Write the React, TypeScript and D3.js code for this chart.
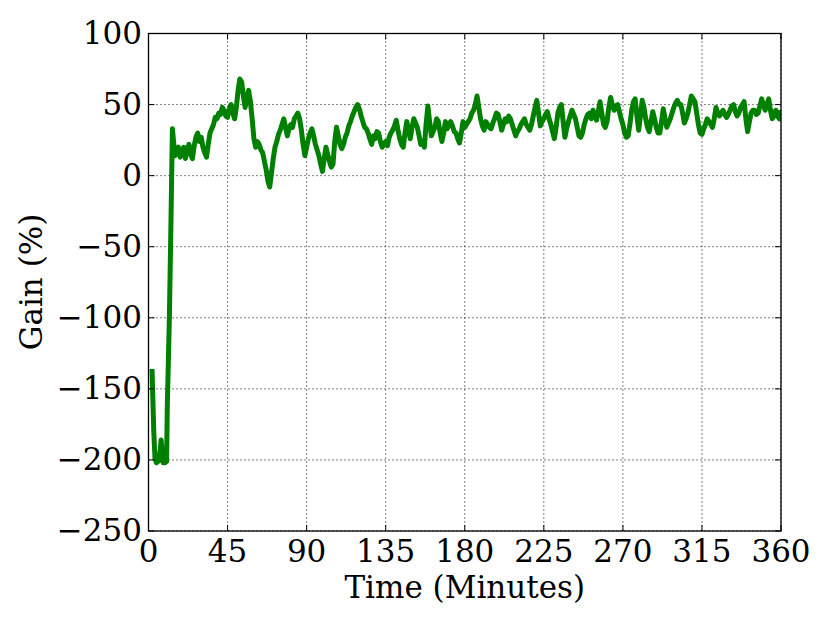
import React from "react";
import * as d3 from "d3";

// Early (steep) part of the series, irregular sampling
const earlyMinutes = [2, 3, 3.7, 4.5, 5.6, 6.5, 7.2, 7.8, 8.4, 9.5, 10.3, 10.7, 11.9, 12.8, 13.6];
const earlyGain = [-136, -180, -199, -202, -201, -195, -186, -195, -202, -202, -201, -162, -99, -31, 33];

// Main part, one sample per minute from 15 to 360
const mainMinutes = d3.range(15, 361, 1);
const mainGain = [
  14, 18, 20, 13, 16, 20, 12, 18, 22, 15,
  12, 21, 27, 30, 24, 27, 20, 16, 13, 22,
  30, 33, 36, 41, 40, 44, 43, 48, 46, 42,
  41, 47, 50, 44, 40, 48, 60, 68, 66, 56,
  48, 55, 60, 52, 40, 26, 20, 24, 22, 18,
  16, 10, 4, -4, -8, 2, 12, 20, 24, 29,
  32, 36, 40, 34, 28, 33, 36, 34, 40, 42,
  44, 40, 32, 22, 14, 20, 26, 30, 33, 28,
  22, 18, 14, 8, 3, 12, 20, 15, 10, 6,
  8, 24, 34, 28, 22, 19, 22, 27, 30, 35,
  38, 42, 45, 48, 50, 47, 42, 38, 34, 33,
  30, 26, 22, 28, 26, 31, 30, 24, 20, 22,
  24, 21, 27, 30, 32, 35, 39, 32, 26, 22,
  20, 30, 38, 32, 26, 34, 40, 37, 34, 28,
  22, 24, 20, 36, 49, 38, 28, 31, 34, 40,
  38, 30, 24, 30, 38, 33, 36, 38, 35, 31,
  30, 26, 23, 30, 38, 34, 36, 38, 40, 44,
  46, 50, 56, 48, 40, 35, 32, 38, 36, 34,
  33, 37, 40, 44, 43, 38, 32, 36, 40, 38,
  42, 40, 36, 32, 28, 31, 33, 36, 38, 40,
  36, 34, 32, 36, 42, 48, 53, 44, 35, 38,
  40, 43, 45, 40, 36, 31, 26, 34, 44, 48,
  50, 38, 27, 33, 38, 42, 46, 43, 40, 34,
  28, 27, 30, 36, 40, 43, 44, 40, 46, 43,
  39, 45, 52, 44, 36, 34, 38, 48, 55, 50,
  46, 49, 50, 45, 40, 36, 30, 27, 28, 36,
  46, 52, 54, 42, 32, 42, 53, 48, 40, 34,
  31, 38, 45, 40, 34, 30, 30, 38, 47, 40,
  34, 37, 40, 44, 48, 51, 53, 50, 50, 44,
  37, 40, 44, 50, 56, 54, 52, 44, 36, 30,
  29, 33, 36, 40, 38, 36, 34, 40, 48, 44,
  42, 44, 46, 43, 41, 43, 46, 49, 50, 45,
  42, 44, 48, 50, 52, 40, 31, 38, 44, 46,
  46, 43, 44, 49, 54, 50, 46, 50, 54, 46,
  40, 42, 46, 42, 40, 46,
];

const xTicks = [0, 45, 90, 135, 180, 225, 270, 315, 360];
const yTicks = [-250, -200, -150, -100, -50, 0, 50, 100];

const W = 830;
const H = 623;
const M = { left: 148.5, right: 781, top: 33.5, bottom: 531 };
const FONT = "'DejaVu Serif', serif";
const FS = 31;

export default function App() {
  const x = d3.scaleLinear().domain([0, 360]).range([M.left, M.right]);
  const y = d3.scaleLinear().domain([-250, 100]).range([M.bottom, M.top]);
  const pts: [number, number][] = [
    ...earlyMinutes.map((t, i) => [t, earlyGain[i]] as [number, number]),
    ...mainMinutes.map((t, i) => [t, mainGain[i]] as [number, number]),
  ];
  const line = d3
    .line<[number, number]>()
    .x((d) => x(d[0]))
    .y((d) => y(d[1]))
    .curve(d3.curveLinear);
  const tickLen = 6;
  const fmt = (v: number) => (v < 0 ? "\u2212" + Math.abs(v) : String(v));

  return (
    <svg
      width={W}
      height={H}
      style={{ position: "absolute", left: 0, top: 0, background: "#fff" }}
      fontFamily={FONT}
    >
      <rect x={0} y={0} width={W} height={H} fill="#fff" />
      <defs>
        <clipPath id="plot">
          <rect x={M.left} y={M.top} width={M.right - M.left} height={M.bottom - M.top} />
        </clipPath>
      </defs>
      {/* grid */}
      {xTicks.map((t) => (
        <line
          key={"gx" + t}
          x1={x(t)}
          x2={x(t)}
          y1={M.top}
          y2={M.bottom}
          stroke="#000"
          strokeWidth={1}
          strokeDasharray="1,3"
        />
      ))}
      {yTicks.map((t) => (
        <line
          key={"gy" + t}
          x1={M.left}
          x2={M.right}
          y1={y(t)}
          y2={y(t)}
          stroke="#000"
          strokeWidth={1}
          strokeDasharray="1,3"
        />
      ))}
      {/* data */}
      <path
        d={line(pts) || ""}
        fill="none"
        stroke="#008000"
        strokeWidth={5}
        strokeLinejoin="round"
        strokeLinecap="butt"
        clipPath="url(#plot)"
      />
      {/* ticks */}
      {xTicks.map((t) => (
        <g key={"tx" + t}>
          <line x1={x(t)} x2={x(t)} y1={M.bottom} y2={M.bottom - tickLen} stroke="#000" strokeWidth={1} />
          <line x1={x(t)} x2={x(t)} y1={M.top} y2={M.top + tickLen} stroke="#000" strokeWidth={1} />
          <text x={x(t)} y={562} textAnchor="middle" fontSize={FS} fill="#000">
            {fmt(t)}
          </text>
        </g>
      ))}
      {yTicks.map((t) => (
        <g key={"ty" + t}>
          <line x1={M.left} x2={M.left + tickLen} y1={y(t)} y2={y(t)} stroke="#000" strokeWidth={1} />
          <line x1={M.right} x2={M.right - tickLen} y1={y(t)} y2={y(t)} stroke="#000" strokeWidth={1} />
          <text x={142} y={y(t) + 10} textAnchor="end" fontSize={FS} fill="#000">
            {fmt(t)}
          </text>
        </g>
      ))}
      {/* frame */}
      <rect
        x={M.left}
        y={M.top}
        width={M.right - M.left}
        height={M.bottom - M.top}
        fill="none"
        stroke="#000"
        strokeWidth={1.3}
      />
      {/* labels */}
      <text x={(M.left + M.right) / 2} y={598} textAnchor="middle" fontSize={FS} fill="#000">
        Time (Minutes)
      </text>
      <text
        transform={`translate(42, 282) rotate(-90)`}
        textAnchor="middle"
        fontSize={FS}
        fill="#000"
      >
        Gain (%)
      </text>
    </svg>
  );
}
